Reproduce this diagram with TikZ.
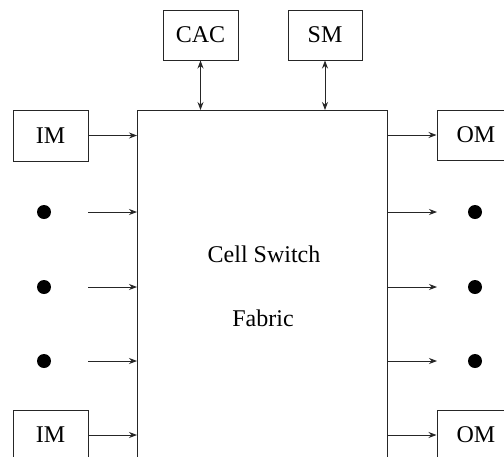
\documentclass[tikz,border=0pt]{standalone}
\usepackage{fontspec}
\setmainfont{Liberation Serif}
\usetikzlibrary{arrows.meta}
\begin{document}
\begin{tikzpicture}[x=1pt,y=-1pt,
  box/.style={draw=black!85,line width=1pt,minimum width=75pt,minimum height=50pt,inner sep=0pt,font=\fontsize{24}{28}\selectfont},
  lbl/.style={inner sep=0pt,font=\fontsize{24}{28}\selectfont},
  dotn/.style={circle,fill=black,inner sep=0pt,minimum size=14pt},
  conn/.style={line width=0.9pt,draw=black!85,-{Stealth[length=8pt,width=6pt]}},
  bconn/.style={line width=0.9pt,draw=black!85,{Stealth[length=8pt,width=6pt]}-{Stealth[length=8pt,width=6pt]}}]
\clip (0,0) rectangle (504,456);
\fill[white] (0,0) rectangle (504,456);
% main fabric
\node[draw=black!85,line width=1pt,minimum width=250pt,minimum height=400pt,inner sep=0pt,anchor=north west] (csf) at (137,110) {};
\node[lbl] (t1) at (264,254) {Cell Switch};
\node[lbl] (t2) at (263,318) {Fabric};
% control boxes
\node[box] (cac) at (200.5,35) {CAC};
\node[box,minimum width=74pt] (sm) at (325,35) {SM};
\draw[bconn] (cac.south) -- (cac.south |- csf.north);
\draw[bconn] (sm.south) -- (sm.south |- csf.north);
% input and output modules
\node[box,minimum height=51pt] (im1) at (50.5,135.5) {IM};
\node[box] (im2) at (50.5,435) {IM};
\node[box,minimum width=78pt] (om1) at (476,135) {OM};
\node[box,minimum width=78pt] (om2) at (476,435) {OM};
\draw[conn] (im1.east) -- (im1.east -| csf.west);
\draw[conn] (im2.east) -- (im2.east -| csf.west);
\draw[conn] (om1.west -| csf.east) -- (om1.west);
\draw[conn] (om2.west -| csf.east) -- (om2.west);
% dots
\node[dotn] (ld1) at (44,212) {};
\node[dotn] (ld2) at (44,287) {};
\node[dotn] (ld3) at (44,361) {};
\node[dotn] (rd1) at (475,212) {};
\node[dotn] (rd2) at (475,287) {};
\node[dotn] (rd3) at (475,361) {};
\coordinate (ls1) at (88,212);
\coordinate (ls2) at (88,287);
\coordinate (ls3) at (88,361);
\coordinate (re1) at (437,212);
\coordinate (re2) at (437,287);
\coordinate (re3) at (437,361);
\draw[conn] (ls1) -- (ls1 -| csf.west);
\draw[conn] (ls2) -- (ls2 -| csf.west);
\draw[conn] (ls3) -- (ls3 -| csf.west);
\draw[conn] (re1 -| csf.east) -- (re1);
\draw[conn] (re2 -| csf.east) -- (re2);
\draw[conn] (re3 -| csf.east) -- (re3);
\end{tikzpicture}
\end{document}
